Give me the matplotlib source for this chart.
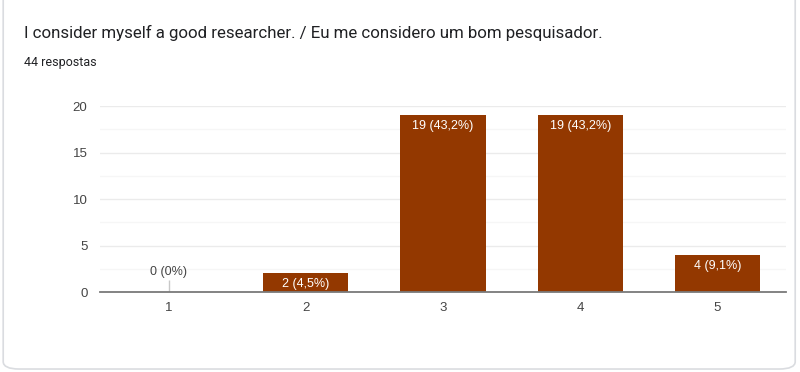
import matplotlib
matplotlib.use('Agg')
import matplotlib.pyplot as plt
from matplotlib.patches import FancyBboxPatch

categories = ['1', '2', '3', '4', '5']
counts = [0, 2, 19, 19, 4]
labels = ['0 (0%)', '2 (4,5%)', '19 (43,2%)', '19 (43,2%)', '4 (9,1%)']
title = 'I consider myself a good researcher. / Eu me considero um bom pesquisador.'
subtitle = '44 respostas'

bar_color = '#933800'

fig = plt.figure(figsize=(8, 3.72), dpi=100)

# card background with rounded border
card = FancyBboxPatch((0.004, 0.008), 0.99, 1.05, boxstyle='round,pad=0,rounding_size=0.02',
                      transform=fig.transFigure, facecolor='white', edgecolor='#dadce0',
                      linewidth=1.2, zorder=-10)
fig.patches.append(card)

fig.text(0.03, 0.91, title, fontsize=12.2, family='Roboto', color='#202124', va='center')
fig.text(0.03, 0.833, subtitle, fontsize=9, family='Roboto', color='#202124', va='center')

ax = fig.add_axes([0.125, 0.215, 0.8575, 0.5])
ax.set_zorder(1)
ax.patch.set_alpha(0)
x = list(range(1, len(categories) + 1))
ax.bar(x, counts, width=0.62, color=bar_color, zorder=3)

# zero-height category gets a little stub line
for xi, c in zip(x, counts):
    if c == 0:
        ax.vlines(xi, 0, 1.3, color='#c8c8c8', linewidth=1, zorder=3)

for xi, c, lab in zip(x, counts, labels):
    if c == 0:
        ax.text(xi, 1.5, lab, ha='center', va='bottom', fontsize=9, color='#444444',
                family='Liberation Sans', zorder=4)
    else:
        ax.annotate(lab, (xi, c), xytext=(0, -3.5), textcoords='offset points',
                    ha='center', va='top', fontsize=9, color='white',
                    family='Liberation Sans', zorder=4)

ax.set_xlim(0.5, 5.5)
ax.set_ylim(0, 20)
ax.set_xticks(x)
ax.set_xticklabels(categories)
ax.set_yticks([0, 5, 10, 15, 20])
ax.set_yticks([2.5, 7.5, 12.5, 17.5], minor=True)
ax.grid(axis='y', which='major', color='#ebebeb', linewidth=1, zorder=0)
ax.grid(axis='y', which='minor', color='#f6f6f6', linewidth=1, zorder=0)
ax.tick_params(axis='both', which='both', length=0, labelsize=9.5, colors='#444444', pad=7)
for lab in ax.get_xticklabels() + ax.get_yticklabels():
    lab.set_family('Liberation Sans')
ax.tick_params(axis='y', pad=9)
for side in ['top', 'right', 'left']:
    ax.spines[side].set_visible(False)
ax.spines['bottom'].set_color('#7a7a7a')
ax.spines['bottom'].set_linewidth(1.3)
ax.spines['bottom'].set_zorder(5)

fig.savefig('out.png', dpi=100)
